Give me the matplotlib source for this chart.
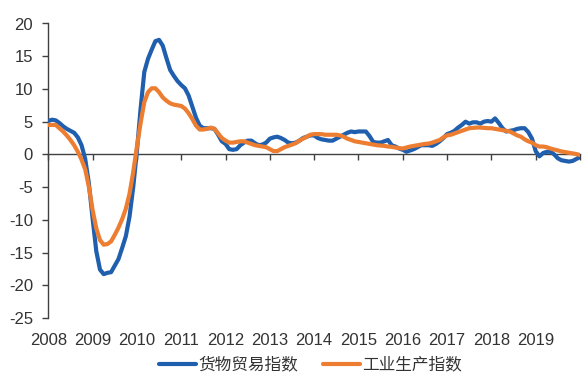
import numpy as np
import pandas as pd
import matplotlib
matplotlib.use("Agg")
import matplotlib.pyplot as plt

start = "2008-01"
trade = [5.1, 5.3, 5.2, 4.8, 4.3, 3.9, 3.6, 3.3, 2.6, 1.4, -0.7, -4.5,
         -9.8, -14.8, -17.6, -18.3, -18.1, -18.0, -17.0, -16.0, -14.3, -12.5, -9.5, -5.0,
         0.5, 7.0, 12.6, 14.6, 16.0, 17.3, 17.5, 16.6, 14.7, 12.9, 12.0, 11.2,
         10.6, 10.1, 9.0, 7.3, 5.6, 4.4, 4.0, 4.0, 4.0, 3.9, 3.0, 2.0,
         1.6, 0.8, 0.7, 0.8, 1.4, 1.8, 2.1, 2.1, 1.7, 1.4, 1.5, 1.8,
         2.4, 2.6, 2.7, 2.5, 2.2, 1.8, 1.7, 1.8, 2.1, 2.5, 2.7, 2.9,
         2.9, 2.5, 2.3, 2.2, 2.1, 2.1, 2.4, 2.7, 3.0, 3.3, 3.5, 3.4,
         3.5, 3.5, 3.5, 2.8, 1.9, 1.8, 1.8, 2.0, 2.2, 1.4, 1.2, 0.9,
         0.7, 0.4, 0.6, 0.8, 1.1, 1.4, 1.4, 1.4, 1.3, 1.6, 2.0, 2.5,
         3.1, 3.3, 3.6, 4.1, 4.5, 5.0, 4.7, 4.9, 4.9, 4.7, 5.0, 5.1,
         5.0, 5.5, 4.8, 4.0, 3.5, 3.6, 3.7, 3.9, 4.0, 4.0, 3.4, 2.4,
         0.5, -0.3, 0.2, 0.4, 0.4, 0.0, -0.6, -0.9, -1.0, -1.1, -1.0, -0.7,
         -0.4]
industry = [4.5, 4.5, 4.5, 4.0, 3.5, 2.9, 2.2, 1.4, 0.4, -0.8, -2.3, -5.0,
            -8.5, -11.3, -13.1, -13.8, -13.7, -13.3, -12.3, -11.2, -9.9, -8.3, -6.0, -2.7,
            1.2, 4.8, 8.0, 9.5, 10.1, 10.1, 9.5, 8.7, 8.2, 7.8, 7.6, 7.5,
            7.4, 7.0, 6.3, 5.4, 4.4, 3.8, 3.8, 3.9, 4.1, 3.9, 3.2, 2.5,
            2.1, 1.8, 1.8, 1.9, 2.0, 2.0, 1.8, 1.6, 1.4, 1.3, 1.2, 1.1,
            0.8, 0.5, 0.5, 0.8, 1.1, 1.3, 1.5, 1.7, 2.1, 2.4, 2.7, 3.0,
            3.1, 3.1, 3.1, 3.0, 3.0, 3.0, 3.0, 2.9, 2.7, 2.4, 2.2, 2.0,
            1.9, 1.8, 1.7, 1.6, 1.5, 1.4, 1.35, 1.3, 1.2, 1.15, 1.05, 0.95,
            0.9, 1.05, 1.2, 1.3, 1.4, 1.5, 1.6, 1.65, 1.8, 2.0, 2.2, 2.6,
            2.9, 3.0, 3.2, 3.4, 3.6, 3.8, 4.0, 4.05, 4.1, 4.1, 4.05, 4.0,
            4.0, 3.9, 3.8, 3.7, 3.6, 3.5, 3.2, 2.9, 2.7, 2.3, 2.0, 1.8,
            1.4, 1.2, 1.2, 1.1, 0.9, 0.75, 0.6, 0.45, 0.35, 0.25, 0.15, 0.05,
            -0.1]
year_ticks = list(range(2008, 2021))
year_labels = [str(y) for y in range(2008, 2020)] + [""]
y_ticks = [-25, -20, -15, -10, -5, 0, 5, 10, 15, 20]
series_names = ["货物贸易指数", "工业生产指数"]

dates = pd.date_range(start, periods=len(trade), freq="MS")
x = dates.year + (dates.month - 1) / 12.0

blue = "#1F5FAE"
orange = "#ED7D31"
txt = "#333333"
axc = "#404040"

fig = plt.figure(figsize=(5.88, 3.79), dpi=100)
ax = fig.add_axes([48.3 / 588, 1 - 318 / 379, (580 - 48.3) / 588, (318 - 23.5) / 379])

l1, = ax.plot(x, trade, color=blue, lw=3.0, solid_capstyle="round", zorder=3)
l2, = ax.plot(x, industry, color=orange, lw=3.0, solid_capstyle="round", zorder=4)

ax.set_xlim(2008, 2020)
ax.set_ylim(-25, 20)

for s in ["top", "right"]:
    ax.spines[s].set_visible(False)
ax.spines["left"].set_color(axc)
ax.spines["left"].set_linewidth(1.0)
ax.spines["bottom"].set_position(("data", 0))
ax.spines["bottom"].set_color(axc)
ax.spines["bottom"].set_linewidth(1.0)

ax.set_yticks(y_ticks)
ax.set_yticklabels([str(v) for v in y_ticks], family="Liberation Sans", fontsize=12, color=txt)
ax.tick_params(axis="y", direction="out", length=4.5, width=1, color=axc, pad=6.5)

ax.set_xticks(year_ticks)
ax.set_xticklabels([])
ax.tick_params(axis="x", direction="out", length=4.5, width=1, color=axc)

sec = ax.secondary_xaxis(0)
sec.set_xticks(year_ticks)
sec.set_xticklabels(year_labels, family="Liberation Sans", fontsize=12, color=txt)
sec.tick_params(axis="x", length=0, pad=11)
sec.spines["bottom"].set_visible(False)

leg = fig.legend([l1, l2], series_names, loc="center", bbox_to_anchor=(0.528, 0.037),
                 ncol=2, frameon=False, handlelength=2.2, handletextpad=0.15,
                 columnspacing=1.5, prop={"family": ["Noto Sans CJK SC", "DejaVu Sans"], "size": 12})
for t in leg.get_texts():
    t.set_color(txt)

fig.savefig("out.png", dpi=100)
